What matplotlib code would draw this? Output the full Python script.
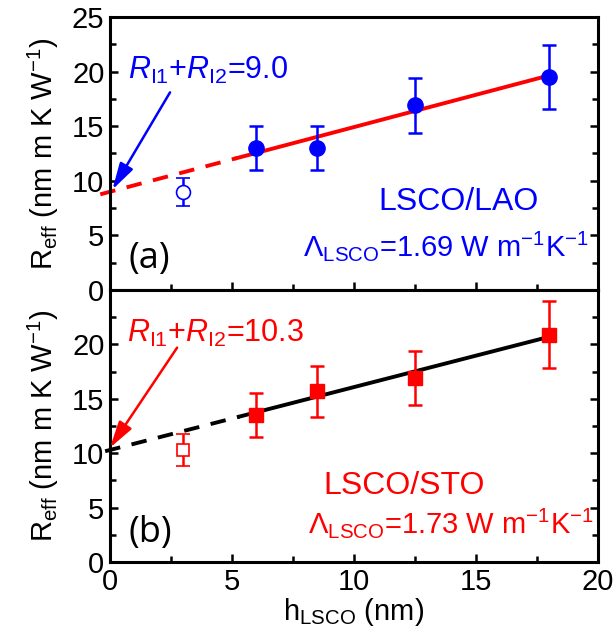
import matplotlib
matplotlib.use("Agg")
import matplotlib.pyplot as plt
from matplotlib.ticker import MultipleLocator

plt.rcParams['font.family'] = ['Liberation Sans', 'DejaVu Sans']
plt.rcParams['mathtext.fontset'] = 'custom'
plt.rcParams['mathtext.rm'] = 'Liberation Sans'
plt.rcParams['mathtext.it'] = 'Liberation Sans:italic'
plt.rcParams['font.size'] = 20

# thickness (nm)
h_lsco = [3, 6, 8.5, 12.5, 18]

# LSCO/LAO
lao_r = [9.0, 13.0, 13.0, 16.9, 19.5]
lao_err = [1.3, 2.0, 2.0, 2.5, 2.9]
lao_fit_dash_x = [-0.4, 5.2]
lao_fit_dash_y = [8.76, 12.08]
lao_fit_x = [5.2, 18]
lao_fit_y = [12.08, 19.65]

# LSCO/STO
sto_r = [10.3, 13.5, 15.7, 16.9, 20.9]
sto_err = [1.5, 2.0, 2.35, 2.5, 3.1]
sto_fit_dash_x = [-0.2, 5.3]
sto_fit_dash_y = [10.18, 13.36]
sto_fit_x = [5.3, 18]
sto_fit_y = [13.36, 20.7]

blue = '#0000ff'
red = '#ff0000'

fig = plt.figure(figsize=(6.16, 6.34), dpi=100)
ax1 = fig.add_axes([0.1786, 0.5426, 0.7922, 0.4306])
ax2 = fig.add_axes([0.1786, 0.1136, 0.7922, 0.4290], sharex=ax1)


def style(ax):
    for s in ax.spines.values():
        s.set_linewidth(2.2)
    ax.set_xlim(0, 20)
    ax.set_ylim(0, 25)
    ax.xaxis.set_major_locator(MultipleLocator(5))
    ax.xaxis.set_minor_locator(MultipleLocator(2.5))
    ax.yaxis.set_minor_locator(MultipleLocator(2.5))
    ax.tick_params(which='both', direction='in', right=True, top=False, width=1.8)
    ax.tick_params(which='major', length=6, labelsize=21, pad=4)
    ax.tick_params(which='minor', length=4)


style(ax1)
style(ax2)

lam_lao = r'Λ$_{\mathrm{LSCO}}$=1.69 W m$^{\mathrm{-1}}$K$^{\mathrm{-1}}$'
lam_sto = r'Λ$_{\mathrm{LSCO}}$=1.73 W m$^{\mathrm{-1}}$K$^{\mathrm{-1}}$'

# top panel
ax1.plot(lao_fit_dash_x, lao_fit_dash_y, color=red, lw=2.8, ls=(0, (4, 3)), clip_on=False, zorder=2)
ax1.plot(lao_fit_x, lao_fit_y, color=red, lw=2.8, zorder=2)
ax1.errorbar(h_lsco[:1], lao_r[:1], yerr=lao_err[:1], fmt='o', ms=10, mfc='white', mec=blue,
             mew=1.2, ecolor=blue, elinewidth=1.8, capsize=5, capthick=1.8, zorder=3)
ax1.errorbar(h_lsco[1:], lao_r[1:], yerr=lao_err[1:], fmt='o', ms=11, color=blue,
             ecolor=blue, elinewidth=1.8, capsize=5, capthick=1.8, zorder=3)
ax1.set_yticks([0, 5, 10, 15, 20, 25])
ax1.tick_params(labelbottom=False)
ax1.text(0.75, 20.1, r'$\mathit{R}_{\mathrm{I1}}$+$\mathit{R}_{\mathrm{I2}}$=9.0',
         color=blue, fontsize=22, va='center', ha='left')
ax1.annotate('', xy=(0.1, 9.2), xytext=(2.46, 18.1),
             arrowprops=dict(arrowstyle='-|>,head_length=0.9,head_width=0.25', color=blue, lw=1.8,
                             mutation_scale=18, shrinkA=0, shrinkB=0))
ax1.text(14.3, 8.1, 'LSCO/LAO', color=blue, fontsize=23, ha='center', va='center')
ax1.text(7.9, 4.0, lam_lao, color=blue, fontsize=21, ha='left', va='center')
ax1.text(0.75, 2.8, '(a)', fontsize=26, family='Open Sans', ha='left', va='center')

# bottom panel
ax2.plot(sto_fit_dash_x, sto_fit_dash_y, color='black', lw=2.8, ls=(0, (4, 3)), clip_on=False, zorder=2)
ax2.plot(sto_fit_x, sto_fit_y, color='black', lw=2.8, zorder=2)
ax2.errorbar(h_lsco[:1], sto_r[:1], yerr=sto_err[:1], fmt='s', ms=9, mfc='white', mec=red,
             mew=1.2, ecolor=red, elinewidth=1.8, capsize=5, capthick=1.8, zorder=3)
ax2.errorbar(h_lsco[1:], sto_r[1:], yerr=sto_err[1:], fmt='s', ms=10, color=red,
             ecolor=red, elinewidth=1.8, capsize=5, capthick=1.8, zorder=3)
ax2.set_yticks([0, 5, 10, 15, 20])
ax2.text(0.7, 21.0, r'$\mathit{R}_{\mathrm{I1}}$+$\mathit{R}_{\mathrm{I2}}$=10.3',
         color=red, fontsize=22, va='center', ha='left')
ax2.annotate('', xy=(0.0, 10.5), xytext=(2.75, 19.7),
             arrowprops=dict(arrowstyle='-|>,head_length=0.9,head_width=0.25', color=red, lw=1.8,
                             mutation_scale=18, shrinkA=0, shrinkB=0))
ax2.text(12.05, 7.0, 'LSCO/STO', color=red, fontsize=23, ha='center', va='center')
ax2.text(8.1, 3.6, lam_sto, color=red, fontsize=21, ha='left', va='center')
ax2.text(0.75, 2.7, '(b)', fontsize=26, family='Open Sans', ha='left', va='center')
ax2.set_xlabel(r'h$_{\mathrm{LSCO}}$ (nm)', fontsize=21, labelpad=0)

for ax in (ax1, ax2):
    ax.set_ylabel(r'R$_{\mathrm{eff}}$ (nm m K W$^{\mathrm{-1}}$)', fontsize=21, labelpad=8)

fig.savefig('out.png', dpi=100)
